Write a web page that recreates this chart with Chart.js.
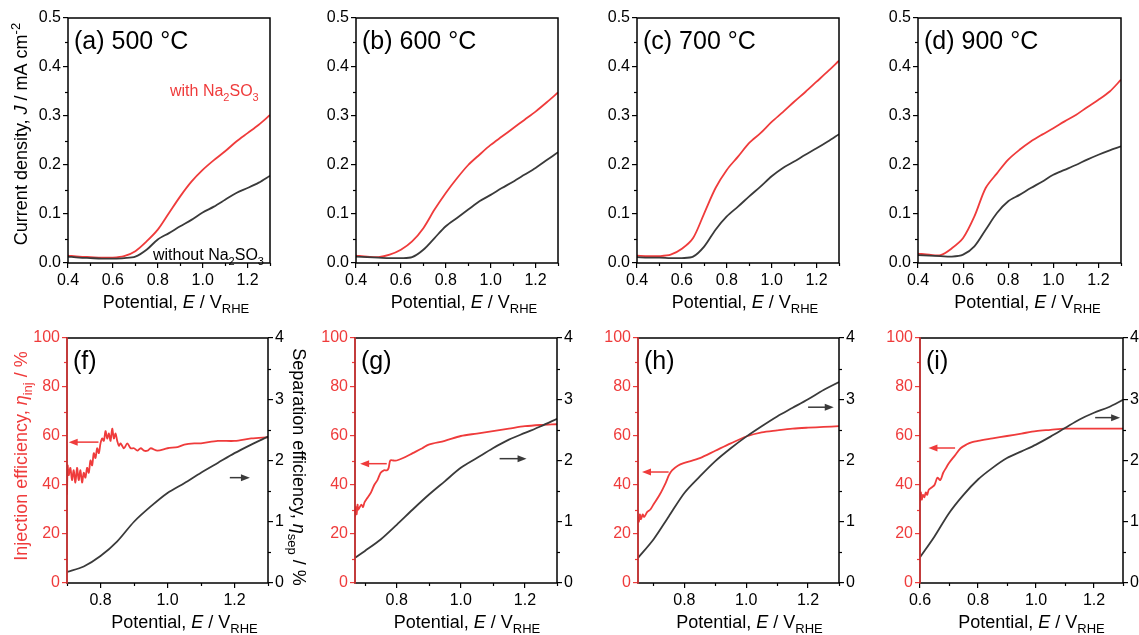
<!DOCTYPE html>
<html>
<head>
<meta charset="utf-8">
<script src="https://cdn.jsdelivr.net/npm/chart.js@4.4.1/dist/chart.umd.min.js"></script>
<style>
  body { margin: 0; background: #fff; width: 1139px; height: 635px; position: relative; overflow: hidden; }
  canvas { position: absolute; }
</style>
</head>
<body>
<script>
// ---- data: top row, current density J (mA cm-2) vs potential ----
var potTop = [0.40, 0.45, 0.50, 0.55, 0.60, 0.65, 0.70, 0.75, 0.80, 0.85, 0.90, 0.95, 1.00, 1.05, 1.10, 1.15, 1.20, 1.25, 1.30];

var jWithA    = [0.015, 0.013, 0.012, 0.011, 0.011, 0.014, 0.024, 0.044, 0.068, 0.102, 0.136, 0.166, 0.190, 0.210, 0.228, 0.248, 0.265, 0.282, 0.302];
var jWithoutA = [0.013, 0.011, 0.010, 0.009, 0.009, 0.010, 0.013, 0.027, 0.048, 0.061, 0.075, 0.088, 0.103, 0.115, 0.129, 0.143, 0.153, 0.164, 0.178];

var jWithB    = [0.015, 0.013, 0.012, 0.017, 0.027, 0.044, 0.071, 0.109, 0.143, 0.173, 0.200, 0.221, 0.241, 0.258, 0.275, 0.292, 0.309, 0.328, 0.348];
var jWithoutB = [0.013, 0.012, 0.011, 0.010, 0.010, 0.012, 0.027, 0.051, 0.075, 0.092, 0.109, 0.126, 0.139, 0.153, 0.166, 0.180, 0.194, 0.210, 0.226];

var jWithC    = [0.015, 0.014, 0.014, 0.017, 0.029, 0.051, 0.102, 0.153, 0.190, 0.217, 0.245, 0.265, 0.288, 0.308, 0.329, 0.349, 0.370, 0.391, 0.413];
var jWithoutC = [0.012, 0.011, 0.011, 0.010, 0.010, 0.013, 0.034, 0.068, 0.095, 0.115, 0.136, 0.156, 0.177, 0.194, 0.207, 0.221, 0.234, 0.248, 0.263];

var jWithD    = [0.019, 0.017, 0.016, 0.030, 0.051, 0.095, 0.153, 0.183, 0.211, 0.231, 0.248, 0.262, 0.275, 0.289, 0.302, 0.318, 0.333, 0.350, 0.374];
var jWithoutD = [0.016, 0.015, 0.014, 0.013, 0.017, 0.034, 0.068, 0.102, 0.126, 0.139, 0.153, 0.166, 0.180, 0.190, 0.200, 0.211, 0.221, 0.230, 0.238];

// ---- data: bottom row, injection efficiency (%) and separation efficiency ----
var potInjF = [0.700, 0.702, 0.705, 0.710, 0.715, 0.720, 0.725, 0.730, 0.735, 0.740, 0.745, 0.750, 0.755, 0.760, 0.765, 0.770, 0.775, 0.780, 0.785, 0.790, 0.795, 0.800, 0.805, 0.810, 0.815, 0.820, 0.825, 0.830, 0.835, 0.840, 0.845, 0.850, 0.855, 0.860, 0.870, 0.880, 0.890, 0.900, 0.910, 0.920, 0.930, 0.940, 0.950, 0.970, 1.000, 1.030, 1.050, 1.080, 1.100, 1.150, 1.200, 1.250, 1.300];
var injF    = [36, 48, 44, 47, 42, 46, 41, 47, 42, 46, 41, 45, 43, 47, 45, 50, 48, 53, 51, 55, 53, 57, 59, 58, 62, 59, 61, 58, 63, 59, 61, 58, 56, 57, 55, 57, 55, 55, 54, 55, 54, 54, 55, 54, 55, 55.5, 56.5, 57, 57, 58, 58, 59, 59.5];
var potSepF = [0.70, 0.75, 0.80, 0.85, 0.90, 0.95, 1.00, 1.05, 1.10, 1.15, 1.20, 1.25, 1.30];
var sepF    = [0.18, 0.27, 0.44, 0.68, 1.00, 1.25, 1.47, 1.63, 1.80, 1.96, 2.12, 2.26, 2.39];

var potInjG = [0.670, 0.672, 0.675, 0.678, 0.680, 0.685, 0.690, 0.695, 0.700, 0.710, 0.720, 0.730, 0.740, 0.750, 0.760, 0.770, 0.775, 0.780, 0.790, 0.800, 0.820, 0.850, 0.880, 0.900, 0.950, 1.000, 1.050, 1.100, 1.150, 1.200, 1.250, 1.300];
var injG    = [27, 31, 28, 32, 30, 31, 32, 31, 33, 35, 37, 40, 42, 45, 46, 46, 47, 50, 50, 50, 51, 53, 55, 56.5, 58, 60, 61, 62, 63, 64, 64.5, 64.8];
var potSepG = [0.67, 0.70, 0.75, 0.80, 0.85, 0.90, 0.95, 1.00, 1.05, 1.10, 1.15, 1.20, 1.25, 1.30];
var sepG    = [0.41, 0.52, 0.71, 0.95, 1.20, 1.44, 1.66, 1.88, 2.04, 2.20, 2.34, 2.45, 2.56, 2.68];

var potInjH = [0.650, 0.653, 0.656, 0.660, 0.665, 0.670, 0.680, 0.690, 0.700, 0.720, 0.740, 0.750, 0.760, 0.780, 0.800, 0.850, 0.900, 0.950, 1.000, 1.050, 1.100, 1.150, 1.200, 1.250, 1.300];
var injH    = [27, 25, 28, 26, 28, 27, 29, 30, 32, 36, 41, 44, 46, 48, 49, 51, 54, 57, 59.8, 61.5, 62.3, 63, 63.4, 63.7, 64];
var potSepH = [0.65, 0.70, 0.75, 0.80, 0.85, 0.90, 0.95, 1.00, 1.05, 1.10, 1.15, 1.20, 1.25, 1.30];
var sepH    = [0.41, 0.71, 1.09, 1.47, 1.74, 1.99, 2.20, 2.39, 2.56, 2.72, 2.86, 3.00, 3.15, 3.28];

var potInjI = [0.600, 0.603, 0.606, 0.610, 0.615, 0.620, 0.625, 0.630, 0.640, 0.650, 0.660, 0.670, 0.680, 0.690, 0.700, 0.720, 0.740, 0.760, 0.780, 0.800, 0.850, 0.900, 0.950, 1.000, 1.050, 1.100, 1.150, 1.200, 1.250, 1.300];
var injI    = [33, 37, 34, 36, 35, 37, 36, 38, 39, 40, 43, 42, 45, 47, 49, 52, 55, 56.5, 57.5, 58, 59, 60, 61, 62, 62.5, 63, 63, 63, 63, 63];
var potSepI = [0.60, 0.65, 0.70, 0.75, 0.80, 0.85, 0.90, 0.95, 1.00, 1.05, 1.10, 1.15, 1.20, 1.25, 1.30];
var sepI    = [0.42, 0.76, 1.14, 1.44, 1.69, 1.88, 2.04, 2.15, 2.26, 2.39, 2.53, 2.67, 2.78, 2.87, 2.99];

// ---- tick labels ----
var xTicksTop = [0.4, 0.6, 0.8, 1.0, 1.2];
var xMinorTop = [0.5, 0.7, 0.9, 1.1, 1.3];
var jTicks = [0, 0.1, 0.2, 0.3, 0.4, 0.5];
var jMinor = [0.05, 0.15, 0.25, 0.35, 0.45];
var xTicksBot = [0.8, 1.0, 1.2];
var xTicksBotI = [0.6, 0.8, 1.0, 1.2];
var xMinorBot = [0.7, 0.9, 1.1, 1.3];
var injTicks = [0, 20, 40, 60, 80, 100];
var injMinor = [10, 30, 50, 70, 90];
var sepTicks = [0, 1, 2, 3, 4];
var sepMinor = [0.5, 1.5, 2.5, 3.5];

var FONT = '"Liberation Sans", Arial, Helvetica, sans-serif';
var RED = '#ef3b3b';
var DARK = '#3a3a3a';

function pts(xs, ys) {
    return xs.map(function (x, i) { return { x: x, y: ys[i] }; });
}

// draws a text made of plain / italic / sub / sup pieces
function richText(ctx, parts, x, y, size, color, rot, align) {
    function f(p) {
        var small = p[1] === 'sub' || p[1] === 'sup';
        return (p[1] === 'i' ? 'italic ' : '') + (small ? Math.round(size * 0.7) : size) + 'px ' + FONT;
    }
    ctx.save();
    ctx.translate(x, y);
    ctx.rotate(rot || 0);
    var total = 0;
    parts.forEach(function (p) { ctx.font = f(p); total += ctx.measureText(p[0]).width; });
    var cx = align === 'left' ? 0 : -total / 2;
    ctx.fillStyle = color;
    ctx.textBaseline = 'alphabetic';
    parts.forEach(function (p) {
        ctx.font = f(p);
        var dy = p[1] === 'sub' ? size * 0.3 : (p[1] === 'sup' ? -size * 0.4 : 0);
        ctx.fillText(p[0], cx, dy);
        cx += ctx.measureText(p[0]).width;
    });
    ctx.restore();
}

function decor(cfg, ox, oy) {
    return {
        id: 'decor',
        afterDraw: function (chart) {
            var ctx = chart.ctx, a = chart.chartArea, s = chart.scales;
            ctx.save();
            // minor ticks
            ctx.lineWidth = 1.2;
            cfg.minors.forEach(function (m) {
                var sc = s[m[0]];
                ctx.strokeStyle = m[2];
                m[1].forEach(function (v) {
                    var p = Math.round(sc.getPixelForValue(v)) + 0.5;
                    ctx.beginPath();
                    if (m[0] === 'x') { ctx.moveTo(p, a.bottom); ctx.lineTo(p, a.bottom + 3); }
                    else if (m[0] === 'y') { ctx.moveTo(a.left, p); ctx.lineTo(a.left - 3, p); }
                    else { ctx.moveTo(a.right, p); ctx.lineTo(a.right + 3, p); }
                    ctx.stroke();
                });
            });
            // frame
            ctx.lineWidth = 1.5;
            ctx.strokeStyle = '#000';
            ctx.strokeRect(a.left, a.top, a.right - a.left, a.bottom - a.top);
            if (cfg.leftColor) {
                ctx.strokeStyle = cfg.leftColor;
                ctx.beginPath(); ctx.moveTo(a.left, a.top - 0.7); ctx.lineTo(a.left, a.bottom + 0.7); ctx.stroke();
            }
            // arrows (data coordinates)
            (cfg.arrows || []).forEach(function (ar) {
                var ys = s[ar.axis];
                var x1 = s.x.getPixelForValue(ar.from), x2 = s.x.getPixelForValue(ar.to);
                var y = ys.getPixelForValue(ar.y);
                var dir = x2 > x1 ? 1 : -1;
                ctx.strokeStyle = ar.color; ctx.fillStyle = ar.color; ctx.lineWidth = 1.5;
                ctx.beginPath(); ctx.moveTo(x1, y); ctx.lineTo(x2 - dir * 6, y); ctx.stroke();
                ctx.beginPath(); ctx.moveTo(x2, y); ctx.lineTo(x2 - dir * 9, y - 3.5); ctx.lineTo(x2 - dir * 9, y + 3.5); ctx.closePath(); ctx.fill();
            });
            // texts (page coordinates)
            (cfg.texts || []).forEach(function (t) {
                richText(ctx, t.parts, t.x - ox, t.y - oy, t.size, t.color, t.rot, t.align);
            });
            ctx.restore();
        }
    };
}

function fixW(w) {
    return function (sc) { sc.width = w; sc.paddingLeft = sc.paddingRight = sc.paddingTop = sc.paddingBottom = 0; };
}
function fixH(h) {
    return function (sc) { sc.height = h; sc.paddingLeft = sc.paddingRight = sc.paddingTop = sc.paddingBottom = 0; };
}
function setTicks(list) {
    return function (sc) { sc.ticks = list.map(function (v) { return { value: v }; }); };
}

function axisOpts(min, max, ticks, color, position, fit, fmt) {
    return {
        type: 'linear', position: position, min: min, max: max,
        afterBuildTicks: setTicks(ticks),
        afterFit: fit,
        border: { display: false },
        grid: { drawOnChartArea: false, drawTicks: true, tickLength: 5, color: color, lineWidth: 1.2 },
        ticks: { color: color, padding: position === 'bottom' ? 3 : 2, font: { family: FONT, size: 16 }, callback: fmt }
    };
}

function panel(cfg) {
    var T = 10, B = 62;
    var ox = cfg.box[0] - cfg.padL, oy = cfg.box[1] - T;
    var w = cfg.box[2] + cfg.padL + cfg.padR, h = cfg.box[3] + T + B;
    var c = document.createElement('canvas');
    c.style.left = ox + 'px'; c.style.top = oy + 'px';
    c.style.width = w + 'px'; c.style.height = h + 'px';
    c.width = w; c.height = h;
    document.body.appendChild(c);

    var scales = {
        x: axisOpts(cfg.xmin, 1.3, cfg.xticks, '#000', 'bottom', fixH(B), function (v) { return v.toFixed(1); })
    };
    var datasets;
    if (cfg.top) {
        scales.y = axisOpts(0, 0.5, jTicks, '#000', 'left', fixW(cfg.padL), function (v) { return v.toFixed(1); });
        datasets = [
            { data: pts(potTop, cfg.without), borderColor: DARK },
            { data: pts(potTop, cfg.with), borderColor: RED }
        ];
    } else {
        scales.y = axisOpts(0, 100, injTicks, RED, 'left', fixW(cfg.padL), function (v) { return v; });
        scales.y2 = axisOpts(0, 4, sepTicks, '#000', 'right', fixW(cfg.padR), function (v) { return v; });
        datasets = [
            { data: pts(cfg.potSep, cfg.sep), borderColor: DARK, yAxisID: 'y2' },
            { data: pts(cfg.potInj, cfg.inj), borderColor: RED, yAxisID: 'y' }
        ];
    }
    datasets.forEach(function (d) {
        d.borderWidth = 1.8; d.pointRadius = 0; d.fill = false; d.tension = 0.3;
    });

    var minors = [['x', xMinorBot, '#000']];
    if (cfg.top) minors = [['x', xMinorTop, '#000'], ['y', jMinor, '#000']];
    else minors.push(['y', injMinor, RED], ['y2', sepMinor, '#000']);

    var cx = cfg.box[0] + cfg.box[2] / 2 + cfg.titleDx;
    var texts = [
        { parts: [['Potential, ', ''], ['E', 'i'], [' / V', ''], ['RHE', 'sub']], x: cx, y: cfg.box[1] + cfg.box[3] + 45, size: 18, color: '#000' },
        { parts: [[cfg.label, '']], x: cfg.box[0] + 6, y: cfg.box[1] + 31, size: 25, color: '#000', align: 'left' }
    ].concat(cfg.texts || []);

    new Chart(c, {
        type: 'line',
        data: { datasets: datasets },
        options: {
            responsive: false,
            animation: false,
            layout: { padding: { top: T, left: 0, bottom: 0, right: cfg.top ? cfg.padR : 0 } },
            plugins: { legend: { display: false }, tooltip: { enabled: false } },
            scales: scales
        },
        plugins: [decor({ minors: minors, leftColor: cfg.top ? null : RED, arrows: cfg.arrows, texts: texts }, ox, oy)]
    });
}

panel({
    top: true, box: [68, 18, 202, 245], padL: 68, padR: 12, xmin: 0.4, xticks: xTicksTop, titleDx: 7,
    label: '(a) 500 \u00B0C', with: jWithA, without: jWithoutA,
    texts: [
        { parts: [['Current density, ', ''], ['J', 'i'], [' / mA cm', ''], ['-2', 'sup']], x: 27, y: 134, size: 18, color: '#000', rot: -Math.PI / 2 },
        { parts: [['with Na', ''], ['2', 'sub'], ['SO', ''], ['3', 'sub']], x: 170, y: 96, size: 16, color: RED, align: 'left' },
        { parts: [['without Na', ''], ['2', 'sub'], ['SO', ''], ['3', 'sub']], x: 153, y: 260, size: 16, color: '#000', align: 'left' }
    ]
});
panel({ top: true, box: [356, 18, 202, 245], padL: 50, padR: 12, xmin: 0.4, xticks: xTicksTop, titleDx: 7, label: '(b) 600 \u00B0C', with: jWithB, without: jWithoutB });
panel({ top: true, box: [637, 18, 202, 245], padL: 50, padR: 12, xmin: 0.4, xticks: xTicksTop, titleDx: 7, label: '(c) 700 \u00B0C', with: jWithC, without: jWithoutC });
panel({ top: true, box: [918, 18, 203, 245], padL: 50, padR: 12, xmin: 0.4, xticks: xTicksTop, titleDx: 8, label: '(d) 900 \u00B0C', with: jWithD, without: jWithoutD });

panel({
    top: false, box: [67, 338, 201, 245], padL: 67, padR: 45, xmin: 0.7, xticks: xTicksBot, titleDx: 17,
    label: '(f)', potInj: potInjF, inj: injF, potSep: potSepF, sep: sepF,
    arrows: [
        { axis: 'y', from: 0.794, to: 0.705, y: 57.5, color: RED },
        { axis: 'y2', from: 1.186, to: 1.246, y: 1.72, color: DARK }
    ],
    texts: [
        { parts: [['Injection efficiency, ', ''], ['\u03B7', 'i'], ['inj', 'sub'], [' / %', '']], x: 27, y: 456, size: 18, color: RED, rot: -Math.PI / 2 },
        { parts: [['Separation efficiency, ', ''], ['\u03B7', 'i'], ['sep', 'sub'], [' / %', '']], x: 293, y: 467, size: 18, color: '#000', rot: Math.PI / 2 }
    ]
});
panel({
    top: false, box: [355, 338, 202, 245], padL: 50, padR: 20, xmin: 0.67, xticks: xTicksBot, titleDx: 11,
    label: '(g)', potInj: potInjG, inj: injG, potSep: potSepG, sep: sepG,
    arrows: [
        { axis: 'y', from: 0.769, to: 0.686, y: 48.7, color: RED },
        { axis: 'y2', from: 1.121, to: 1.205, y: 2.03, color: DARK }
    ]
});
panel({
    top: false, box: [638, 338, 201, 245], padL: 50, padR: 20, xmin: 0.65, xticks: xTicksBot, titleDx: 11,
    label: '(h)', potInj: potInjH, inj: injH, potSep: potSepH, sep: sepH,
    arrows: [
        { axis: 'y', from: 0.749, to: 0.663, y: 45.3, color: RED },
        { axis: 'y2', from: 1.2, to: 1.283, y: 2.87, color: DARK }
    ]
});
panel({
    top: false, box: [920, 338, 203, 245], padL: 50, padR: 20, xmin: 0.6, xticks: xTicksBotI, titleDx: 10,
    label: '(i)', potInj: potInjI, inj: injI, potSep: potSepI, sep: sepI,
    arrows: [
        { axis: 'y', from: 0.721, to: 0.629, y: 55.1, color: RED },
        { axis: 'y2', from: 1.204, to: 1.29, y: 2.7, color: DARK }
    ]
});
</script>
</body>
</html>
